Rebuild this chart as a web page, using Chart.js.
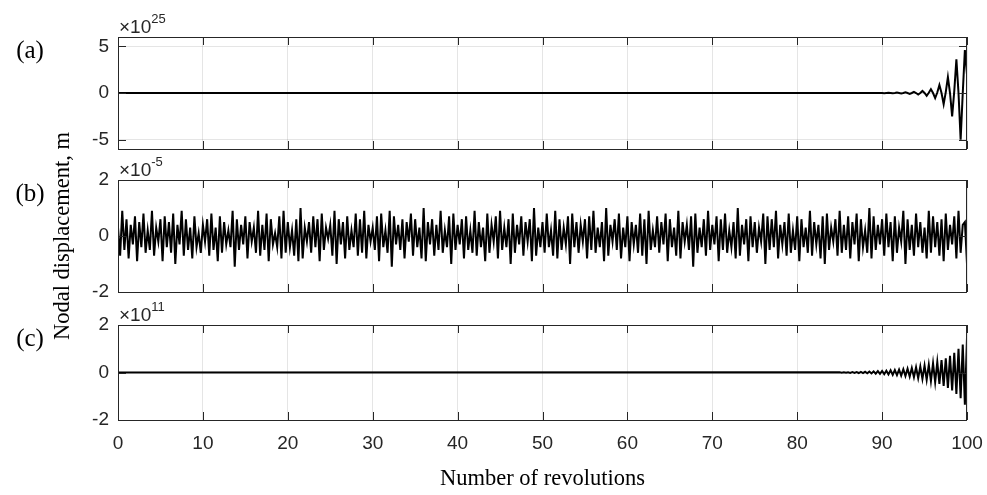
<!DOCTYPE html>
<html>
<head>
<meta charset="utf-8">
<script src="https://cdn.jsdelivr.net/npm/chart.js@4.4.1/dist/chart.umd.min.js"></script>
<style>
  html, body { margin: 0; padding: 0; background: #fff; }
  #wrap { position: relative; width: 987px; height: 495px; }
  #wrap canvas { position: absolute; left: 0; top: 0; }
</style>
</head>
<body>
<div id="wrap">
  <canvas id="panelA" width="987" height="495"></canvas>
  <canvas id="panelB" width="987" height="495"></canvas>
  <canvas id="panelC" width="987" height="495"></canvas>
</div>
<script>
// number of revolutions (shared x axis)
const revTicks = [0, 10, 20, 30, 40, 50, 60, 70, 80, 90, 100];
const revStep = 0.25;

// (a) displacement in units of 1e25 m, zero before aStart
const aStart = 89;
const aValues = [
  0, -0.01, 0, 0.01, 0, -0.015, 0, 0.02, 0, -0.03,
  0, 0.04, 0, -0.05, 0, 0.07, 0, -0.09, 0, 0.12,
  0, -0.16, 0, 0.22, 0, -0.3, 0.02, 0.4, 0, -0.55,
  0.05, 0.85, 0, -1.2, 0.1, 1.7, 0, -2.5, 0.2, 3.6,
  0, -5.0, 0, 4.6, 2.0
];
const aTicks = [-5, 0, 5];

// (b) displacement in units of 1e-5 m, whole run
const bStart = 0;
const bValues = [
  0.3, -0.7, 0.9, -0.5, 0.6, -0.8, 0.4, -0.3, 0.7, -0.9,
  0.5, -0.4, 0.8, -0.6, 0.2, -0.5, 0.9, -0.7, 0.3, -0.2,
  0.6, -0.9, 0.7, -0.4, 0.5, -0.6, 0.8, -1.0, 0.4, -0.3,
  0.9, -0.7, 0.6, -0.5, 0.3, -0.8, 0.7, -0.4, 0.1, -0.6,
  0.4, -0.2, 0.6, -0.7, 0.8, -0.5, 0.3, -0.9, 0.7, -0.6,
  0.5, -0.3, 0.2, -0.4, 0.9, -1.1, 0.6, -0.5, 0.4, -0.3,
  0.7, -0.8, 0.5, -0.2, 0.3, -0.6, 0.9, -0.7, 0.4, -0.5,
  0.8, -0.9, 0.6, -0.3, 0.1, -0.4, 0.7, -0.8, 0.9, -0.6,
  0.5, -0.4, 0.2, -0.7, 0.6, -0.9, 1.0, -0.8, 0.3, -0.2,
  0.5, -0.6, 0.7, -0.4, 0.6, -0.9, 0.8, -0.5, 0.3, -0.1,
  0.4, -0.7, 0.9, -1.0, 0.6, -0.3, 0.5, -0.8, 0.7, -0.5,
  0.2, -0.4, 0.8, -0.7, 0.6, -0.6, 0.9, -0.8, 0.4, -0.2,
  0.3, -0.5, 0.7, -0.9, 0.8, -0.4, 0.2, -0.6, 0.9, -1.1,
  0.7, -0.3, 0.4, -0.5, 0.6, -0.8, 0.5, -0.2, 0.8, -0.7,
  0.6, -0.4, 0.3, -0.8, 1.0, -0.9, 0.5, -0.3, 0.6, -0.7,
  0.4, -0.5, 0.9, -0.6, 0.2, -0.4, 0.7, -1.0, 0.8, -0.5,
  0.4, -0.3, 0.6, -0.8, 0.7, -0.5, 0.2, -0.6, 0.9, -0.7,
  0.5, -0.4, 0.3, -0.9, 0.8, -0.6, 0.4, -0.2, 0.7, -0.8,
  0.9, -0.5, 0.3, -0.4, 0.6, -1.0, 0.8, -0.6, 0.4, -0.3,
  0.7, -0.7, 0.5, -0.2, 0.6, -0.9, 1.0, -0.7, 0.3, -0.4,
  0.5, -0.6, 0.8, -0.4, 0.2, -0.7, 0.9, -0.8, 0.6, -0.5,
  0.3, -0.3, 0.7, -1.0, 0.8, -0.4, 0.5, -0.6, 0.4, -0.2,
  0.6, -0.8, 0.7, -0.5, 0.9, -0.6, 0.3, -0.4, 0.5, -0.9,
  1.0, -0.7, 0.4, -0.2, 0.6, -0.5, 0.8, -0.8, 0.3, -0.4,
  0.7, -0.9, 0.5, -0.3, 0.4, -0.6, 0.8, -0.7, 0.6, -1.0,
  0.9, -0.5, 0.2, -0.4, 0.7, -0.6, 0.5, -0.3, 0.8, -0.9,
  0.6, -0.4, 0.3, -0.7, 0.9, -0.8, 0.5, -0.2, 0.4, -0.5,
  0.7, -1.1, 0.8, -0.6, 0.3, -0.4, 0.6, -0.7, 0.9, -0.5,
  0.4, -0.3, 0.7, -0.9, 0.6, -0.5, 0.8, -0.6, 0.2, -0.4,
  0.5, -0.8, 1.0, -0.7, 0.4, -0.3, 0.6, -0.9, 0.7, -0.4,
  0.5, -0.6, 0.3, -0.2, 0.8, -1.0, 0.7, -0.5, 0.6, -0.4,
  0.9, -0.8, 0.4, -0.3, 0.5, -0.7, 0.8, -0.6, 0.2, -0.5,
  0.7, -0.9, 0.6, -0.4, 0.3, -0.6, 0.9, -0.7, 0.5, -0.3,
  0.4, -0.8, 0.7, -1.0, 0.8, -0.5, 0.3, -0.2, 0.6, -0.7,
  0.9, -0.6, 0.4, -0.5, 0.7, -0.8, 0.5, -0.3, 0.8, -0.9,
  0.6, -0.4, 0.2, -0.6, 1.0, -0.8, 0.7, -0.5, 0.4, -0.3,
  0.6, -0.7, 0.8, -0.4, 0.5, -0.9, 0.7, -0.6, 0.3, -0.2,
  0.9, -1.0, 0.6, -0.5, 0.4, -0.7, 0.8, -0.4, 0.5, -0.6,
  0.3, -0.8, 0.9, -0.6, 0.7, -0.4, 0.5, -0.7, 0.6, -0.9,
  0.8, -0.5, 0.4, -0.3, 0.7, -0.8, 0.9, -0.6, 0.4, 0.5,
  -1.0
];
const bTicks = [-2, 0, 2];

// (c) displacement in units of 1e11 m, zero before cStart
const cStart = 85;
const cValues = [
  0.01, -0.01, 0.01, -0.012, 0.013, -0.014, 0.016, -0.018, 0.02, -0.022,
  0.025, -0.028, 0.03, -0.034, 0.038, -0.042, 0.046, -0.05, 0.055, -0.06,
  0.065, -0.07, 0.077, -0.083, 0.09, -0.097, 0.105, -0.112, 0.12, -0.13,
  0.14, -0.15, 0.16, -0.17, 0.185, -0.2, 0.22, -0.235, 0.25, -0.27,
  0.29, -0.31, 0.33, -0.36, 0.39, -0.41, 0.44, -0.48, 0.52, -0.56,
  0.6, -0.65, 0.7, -0.76, 0.83, -0.9, 1.0, -1.08, 1.18, -1.36,
  1.47
];
const cTicks = [-2, 0, 2];

const SANS = '"Liberation Sans", Arial, Helvetica, sans-serif';
const SERIF = '"Liberation Serif", "Times New Roman", serif';
const AXIS_INK = '#262626';

function series(start, values) {
  const pts = [];
  if (start > 0) pts.push({ x: 0, y: 0 });
  values.forEach((v, i) => pts.push({ x: start + i * revStep, y: v }));
  return pts;
}

// box, inward ticks, panel tag and the x10^n multiplier
const frame = {
  id: 'frame',
  afterDraw(chart, args, opts) {
    const { ctx, chartArea: a, scales: { x, y } } = chart;
    const len = 8;
    ctx.save();
    ctx.strokeStyle = AXIS_INK;
    ctx.lineWidth = 1;
    ctx.beginPath();
    x.ticks.forEach(t => {
      const px = Math.round(x.getPixelForValue(t.value)) + 0.5;
      ctx.moveTo(px, a.bottom); ctx.lineTo(px, a.bottom - len);
      ctx.moveTo(px, a.top); ctx.lineTo(px, a.top + len);
    });
    y.ticks.forEach(t => {
      const py = Math.round(y.getPixelForValue(t.value)) + 0.5;
      ctx.moveTo(a.left, py); ctx.lineTo(a.left + len, py);
      ctx.moveTo(a.right, py); ctx.lineTo(a.right - len, py);
    });
    ctx.stroke();
    ctx.strokeRect(Math.round(a.left) + 0.5, Math.round(a.top) + 0.5,
                   Math.round(a.right - a.left) - 1, Math.round(a.bottom - a.top));

    ctx.fillStyle = '#000';
    ctx.font = '25px ' + SERIF;
    ctx.textAlign = 'center';
    ctx.textBaseline = 'middle';
    ctx.fillText(opts.tag, 30, a.top + 14);

    ctx.fillStyle = AXIS_INK;
    ctx.textAlign = 'left';
    ctx.textBaseline = 'alphabetic';
    ctx.font = '19px ' + SANS;
    const base = '\u00d710';
    ctx.fillText(base, a.left + 1, a.top - 4);
    const w = ctx.measureText(base).width;
    ctx.font = '13px ' + SANS;
    ctx.fillText(opts.exp, a.left + 1 + w, a.top - 14);
    ctx.restore();
  }
};

function makePanel(id, data, yTicks, yLim, box, extra) {
  const showX = !!extra.xTitle;
  return new Chart(document.getElementById(id), {
    type: 'line',
    data: {
      datasets: [{
        data: data,
        borderColor: '#000',
        borderWidth: 2,
        pointRadius: 0,
        tension: 0,
        fill: false
      }]
    },
    options: {
      responsive: false,
      animation: false,
      devicePixelRatio: 1,
      layout: { padding: { top: box.top, right: 20, left: 0, bottom: 0 } },
      plugins: {
        legend: { display: false },
        tooltip: { enabled: false },
        frame: { tag: extra.tag, exp: extra.exp }
      },
      scales: {
        x: {
          type: 'linear',
          min: 0,
          max: 100,
          afterBuildTicks: s => { s.ticks = revTicks.map(v => ({ value: v })); },
          afterFit: s => {
            s.height = 495 - box.bottom;
            s.paddingLeft = 0;
            s.paddingRight = 0;
          },
          grid: { color: 'rgba(38,38,38,0.12)', drawTicks: false },
          border: { display: false },
          ticks: {
            display: showX,
            padding: 12,
            color: AXIS_INK,
            font: { family: SANS, size: 19 },
            maxRotation: 0
          },
          title: {
            display: showX,
            text: extra.xTitle || '',
            color: '#000',
            font: { family: SERIF, size: 22.5 },
            padding: { bottom: 2, top: 0 }
          }
        },
        y: {
          type: 'linear',
          min: yLim[0],
          max: yLim[1],
          afterBuildTicks: s => { s.ticks = yTicks.map(v => ({ value: v })); },
          afterFit: s => { s.width = 118; },
          grid: { color: 'rgba(38,38,38,0.12)', drawTicks: false },
          border: { display: false },
          ticks: {
            padding: 9,
            color: AXIS_INK,
            font: { family: SANS, size: 19 }
          },
          title: {
            display: !!extra.yTitle,
            text: extra.yTitle || '',
            color: '#000',
            font: { family: SERIF, size: 22.5 },
            padding: { top: 50, bottom: 0 }
          }
        }
      }
    },
    plugins: [frame]
  });
}

makePanel('panelA', series(aStart, aValues), aTicks, [-6, 6],
  { top: 37, bottom: 149 }, { tag: '(a)', exp: '25' });
makePanel('panelB', series(bStart, bValues), bTicks, [-2, 2],
  { top: 180, bottom: 292 }, { tag: '(b)', exp: '-5', yTitle: 'Nodal displacement, m' });
makePanel('panelC', series(cStart, cValues), cTicks, [-2, 2],
  { top: 325, bottom: 420 }, { tag: '(c)', exp: '11', xTitle: 'Number of revolutions' });
</script>
</body>
</html>
